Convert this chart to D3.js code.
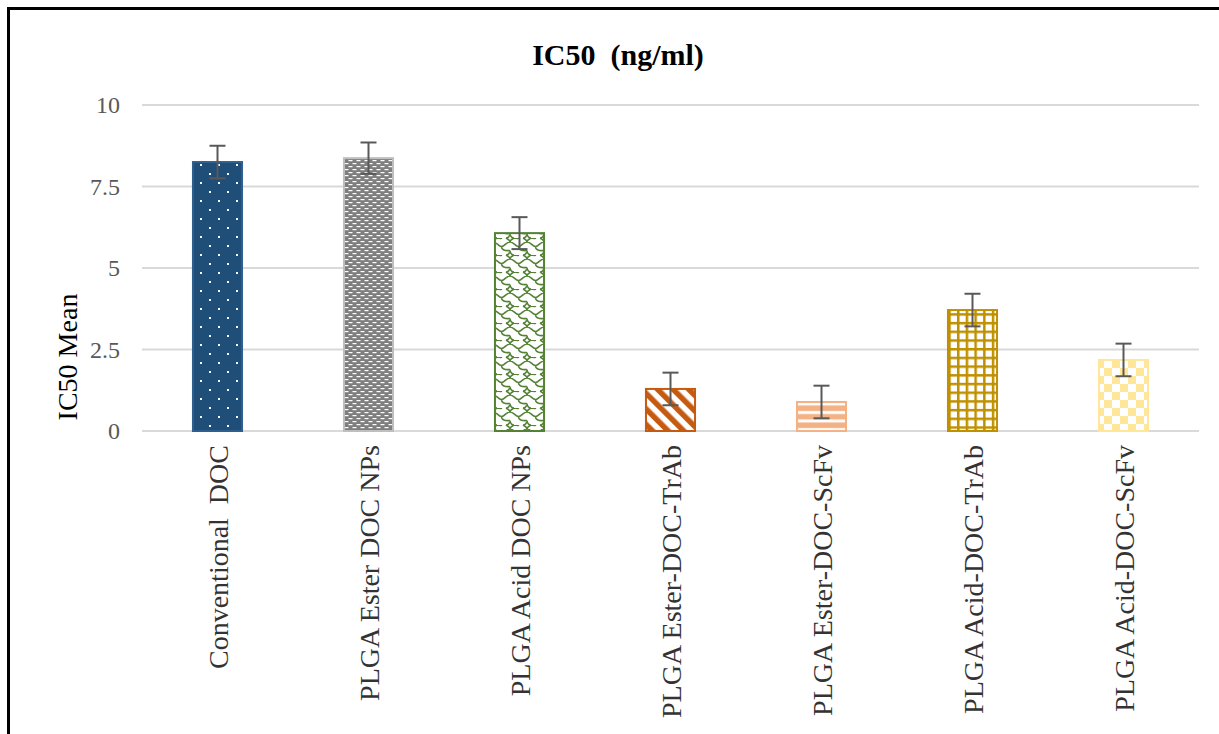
<!DOCTYPE html>
<html><head><meta charset="utf-8">
<script src="https://cdn.jsdelivr.net/npm/d3@7"></script>
<style>
body{margin:0;background:#fff}
svg{display:block}
text{font-family:"Liberation Serif","Times New Roman",serif;white-space:pre}
</style>
</head><body>
<svg id="chart" width="1219" height="734"></svg>
<script>
// IC50 means (ng/ml) with their error margins
const categories = ["Conventional  DOC", "PLGA Ester DOC NPs", "PLGA Acid DOC NPs", "PLGA Ester-DOC-TrAb", "PLGA Ester-DOC-ScFv", "PLGA Acid-DOC-TrAb", "PLGA Acid-DOC-ScFv"];
const ic50Mean = [8.25, 8.37, 6.07, 1.29, 0.89, 3.71, 2.18];
const ic50Err = [0.5, 0.48, 0.49, 0.5, 0.5, 0.5, 0.5];
const yTicks = [0, 2.5, 5, 7.5, 10];
const yTickLabels = ["0", "2.5", "5", "7.5", "10"];

const svg = d3.select("#chart");
const W = 1219, H = 734;

const x = d3.scaleBand().domain(categories).range([142, 1199]).padding(0);
const y = d3.scaleLinear().domain([0, 10]).range([431, 105]);
const barW = x.bandwidth() * 0.325;

// ---- fill patterns, one per bar ----
const defs = svg.append("defs");

// dark blue with staggered white dots
const p0 = defs.append("pattern").attr("id", "p0").attr("patternUnits", "userSpaceOnUse")
  .attr("width", 18).attr("height", 18).attr("x", 0).attr("y", 0);
p0.append("rect").attr("width", 18).attr("height", 18).attr("fill", "#1f4e79");
p0.append("rect").attr("x", 2).attr("y", 2).attr("width", 2).attr("height", 2).attr("fill", "#fff");
p0.append("rect").attr("x", 11).attr("y", 11).attr("width", 2).attr("height", 2).attr("fill", "#fff");

// gray with white dashes
const p1 = defs.append("pattern").attr("id", "p1").attr("patternUnits", "userSpaceOnUse")
  .attr("width", 8).attr("height", 6);
p1.append("rect").attr("width", 8).attr("height", 6).attr("fill", "#7f7f7f");
p1.append("rect").attr("x", 0.5).attr("y", 1).attr("width", 4).attr("height", 1.2).attr("fill", "#fff");
p1.append("rect").attr("x", 4.5).attr("y", 4).attr("width", 4).attr("height", 1.2).attr("fill", "#fff");
p1.append("rect").attr("x", -3.5).attr("y", 4).attr("width", 4).attr("height", 1.2).attr("fill", "#fff");

// green shingle on white
const p2 = defs.append("pattern").attr("id", "p2").attr("patternUnits", "userSpaceOnUse")
  .attr("width", 17).attr("height", 17);
p2.append("rect").attr("width", 17).attr("height", 17).attr("fill", "#fff");
p2.append("path")
  .attr("d", "M0,4 C4,4 5,8 8.5,8.5 C8.5,12 12,13 17,12.5 M8.5,8.5 C12,8 13,4 17,4 M0,12.5 C0,15 2,17 4,17 M17,12.5 C17,15 15,17 13,17 M4,0 C6,0 8.5,1 8.5,0 M13,0 C15,1 17,2 17,4 M0,4 C0,2 2,1 4,0")
  .attr("fill", "none").attr("stroke", "#548235").attr("stroke-width", 1.6);

// orange wide downward diagonal
const p3 = defs.append("pattern").attr("id", "p3").attr("patternUnits", "userSpaceOnUse")
  .attr("width", 11).attr("height", 11).attr("patternTransform", "rotate(-45)");
p3.append("rect").attr("width", 11).attr("height", 11).attr("fill", "#fff");
p3.append("rect").attr("width", 5.5).attr("height", 11).attr("fill", "#c55a11");

// light orange with white horizontal lines
const p4 = defs.append("pattern").attr("id", "p4").attr("patternUnits", "userSpaceOnUse")
  .attr("width", 8).attr("height", 8.5);
p4.append("rect").attr("width", 8).attr("height", 8.5).attr("fill", "#f4b183");
p4.append("rect").attr("y", 3).attr("width", 8).attr("height", 3).attr("fill", "#fff");

// gold large grid
const p5 = defs.append("pattern").attr("id", "p5").attr("patternUnits", "userSpaceOnUse")
  .attr("width", 8.7).attr("height", 8.7);
p5.append("rect").attr("width", 8.7).attr("height", 8.7).attr("fill", "#bf9000");
p5.append("rect").attr("x", 2.5).attr("y", 2.5).attr("width", 6.2).attr("height", 6.2).attr("fill", "#fff");

// pale yellow checkerboard
const p6 = defs.append("pattern").attr("id", "p6").attr("patternUnits", "userSpaceOnUse")
  .attr("width", 16).attr("height", 16);
p6.append("rect").attr("width", 16).attr("height", 16).attr("fill", "#fff");
p6.append("rect").attr("width", 8).attr("height", 8).attr("fill", "#ffe699");
p6.append("rect").attr("x", 8).attr("y", 8).attr("width", 8).attr("height", 8).attr("fill", "#ffe699");

const strokes = ["#2e5f8f", "#bfbfbf", "#548235", "#c55a11", "#f4b183", "#bf9000", "#ffe699"];

// ---- frame ----
svg.append("path").attr("d", `M8.5,${H} V8.5 H${W}`)
  .attr("fill", "none").attr("stroke", "#000").attr("stroke-width", 3);

// ---- title ----
svg.append("text").attr("x", 618).attr("y", 65).attr("text-anchor", "middle")
  .attr("font-size", 30).attr("font-weight", "bold").attr("fill", "#000")
  .text("IC50  (ng/ml)");

// ---- gridlines and y axis ----
const yAxis = d3.axisLeft(y).tickValues(yTicks)
  .tickFormat((d, i) => yTickLabels[i]).tickSize(0).tickPadding(22);
const gy = svg.append("g").attr("transform", "translate(142,0)").call(yAxis);
gy.select(".domain").remove();
gy.selectAll("text").attr("font-size", 24).attr("fill", "#595959")
  .attr("font-family", "Liberation Serif, Times New Roman, serif");

svg.append("g").selectAll("line").data(yTicks).join("line")
  .attr("x1", 142).attr("x2", 1199)
  .attr("y1", d => y(d)).attr("y2", d => y(d))
  .attr("stroke", "#d9d9d9").attr("stroke-width", 2);

svg.append("text")
  .attr("transform", "translate(77,357) rotate(-90)")
  .attr("text-anchor", "middle").attr("font-size", 28).attr("fill", "#000")
  .text("IC50 Mean");

// ---- bars ----
svg.append("g").selectAll("rect").data(categories).join("rect")
  .attr("x", d => x(d) + x.bandwidth() / 2 - barW / 2)
  .attr("width", barW)
  .attr("y", (d, i) => y(ic50Mean[i]))
  .attr("height", (d, i) => y(0) - y(ic50Mean[i]))
  .attr("fill", (d, i) => `url(#p${i})`)
  .attr("stroke", (d, i) => strokes[i])
  .attr("stroke-width", 2);

// ---- error bars ----
const eg = svg.append("g").attr("stroke", "#595959").attr("stroke-width", 2);
categories.forEach((c, i) => {
  const cx = x(c) + x.bandwidth() / 2;
  const hi = y(ic50Mean[i] + ic50Err[i]);
  const lo = y(ic50Mean[i] - ic50Err[i]);
  eg.append("line").attr("x1", cx).attr("x2", cx).attr("y1", hi).attr("y2", lo);
  eg.append("line").attr("x1", cx - 8).attr("x2", cx + 8).attr("y1", hi).attr("y2", hi);
  eg.append("line").attr("x1", cx - 8).attr("x2", cx + 8).attr("y1", lo).attr("y2", lo);
});

// ---- category labels ----
svg.append("g").selectAll("text").data(categories).join("text")
  .attr("transform", d => `translate(${x(d) + x.bandwidth() / 2 + 10},445) rotate(-90)`)
  .attr("text-anchor", "end").attr("font-size", 28).attr("fill", "#333")
  .text(d => d);
</script>
</body></html>
